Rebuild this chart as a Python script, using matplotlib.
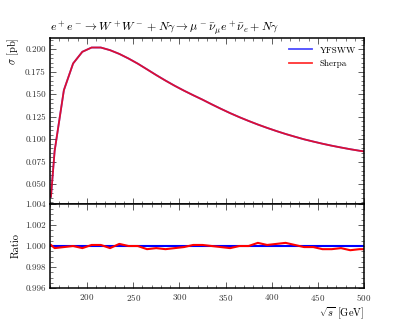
import matplotlib
matplotlib.use("Agg")
import matplotlib.pyplot as plt
import numpy as np
from matplotlib.ticker import MultipleLocator

plt.rcParams['font.family'] = 'serif'
plt.rcParams['font.serif'] = ['cmr10']
plt.rcParams['mathtext.fontset'] = 'cm'
plt.rcParams['axes.unicode_minus'] = False
plt.rcParams['axes.formatter.use_mathtext'] = True

sqrt_s = [161, 165, 175, 185, 195, 205, 215, 225, 235, 245, 255, 265, 275, 285,
          295, 305, 315, 325, 335, 345, 355, 365, 375, 385, 395, 405, 415, 425,
          435, 445, 455, 465, 475, 485, 495, 500]
sigma_yfsww = [0.036, 0.087, 0.1545, 0.1842, 0.1972, 0.2019, 0.2019, 0.1990,
               0.1948, 0.1897, 0.1840, 0.1777, 0.1713, 0.1652, 0.1594, 0.1540,
               0.1489, 0.1440, 0.1388, 0.1338, 0.1290, 0.1245, 0.1203, 0.1163,
               0.1126, 0.1091, 0.1058, 0.1028, 0.0999, 0.0974, 0.0950, 0.0928,
               0.0908, 0.0889, 0.0872, 0.0865]
ratio_sherpa = [1.0001, 0.9998, 0.9999, 1.0000, 0.9998, 1.0001, 1.0001, 0.9998,
                1.0002, 1.0000, 1.0000, 0.9997, 0.9998, 0.9997, 0.9998, 0.9999,
                1.0001, 1.0001, 1.0000, 0.9999, 0.9998, 1.0000, 1.0000, 1.0003,
                1.0001, 1.0002, 1.0003, 1.0001, 0.9999, 0.9999, 0.9997, 0.9997,
                0.9998, 0.9996, 0.9997, 0.9997]

x = np.array(sqrt_s)
y_ref = np.array(sigma_yfsww)
r = np.array(ratio_sherpa)
y_sh = y_ref * r

fig = plt.figure(figsize=(4.05, 3.24), dpi=100)
ax = fig.add_axes([0.1235, 0.3704, 0.7755, 0.5123])
axr = fig.add_axes([0.1235, 0.111, 0.7755, 0.2594], sharex=ax)

ax.plot(x, y_ref, color='#0000ff', lw=1.3, alpha=0.7, label='YFSWW')
ax.plot(x, y_sh, color='#ff0000', lw=1.3, alpha=0.8, label='Sherpa')
ax.set_xlim(160, 500)
ax.set_ylim(0.028, 0.2125)
ax.yaxis.set_minor_locator(MultipleLocator(0.005))
ax.set_yticks([0.050, 0.075, 0.100, 0.125, 0.150, 0.175, 0.200])
ax.set_yticklabels(['0.050', '0.075', '0.100', '0.125', '0.150', '0.175', '0.200'])
ax.tick_params(labelbottom=False)
ax.set_ylabel(r'$\sigma$ [pb]', fontsize=7.5, loc='top', labelpad=3)
ax.set_title(r'$e^+e^- \rightarrow W^+W^- + N\gamma \rightarrow \mu^-\bar{\nu}_\mu e^+\bar{\nu}_e + N\gamma$',
             loc='left', fontsize=8.6, pad=3)
leg = ax.legend(loc='upper right', frameon=False, fontsize=6.5, handlelength=2.6,
                borderaxespad=0.5, labelspacing=0.55)

axr.axhline(1.0, color='#0000ff', lw=1.5)
axr.plot(x, r, color='#ff0000', lw=1.5)
axr.set_ylim(0.996, 1.004)
axr.set_yticks([0.996, 0.998, 1.000, 1.002, 1.004])
axr.set_yticklabels(['0.996', '0.998', '1.000', '1.002', '1.004'])
axr.yaxis.set_minor_locator(MultipleLocator(0.0005))
axr.xaxis.set_minor_locator(MultipleLocator(10))
axr.set_xticks([200, 250, 300, 350, 400, 450, 500])
axr.set_ylabel('Ratio', fontsize=7.5, labelpad=3)
axr.set_xlabel(r'$\sqrt{s}$ [GeV]', fontsize=7.5, loc='right', labelpad=2)

for a in (ax, axr):
    a.tick_params(which='both', direction='in', top=True, right=True, labelsize=6.5,
                  colors='#444444', labelcolor='#333333')
    a.tick_params(which='major', length=4, width=0.6, pad=3)
    a.tick_params(which='minor', length=2, width=0.5)
    for s in a.spines.values():
        s.set_linewidth(1.1)

fig.savefig('out.png', dpi=100)
